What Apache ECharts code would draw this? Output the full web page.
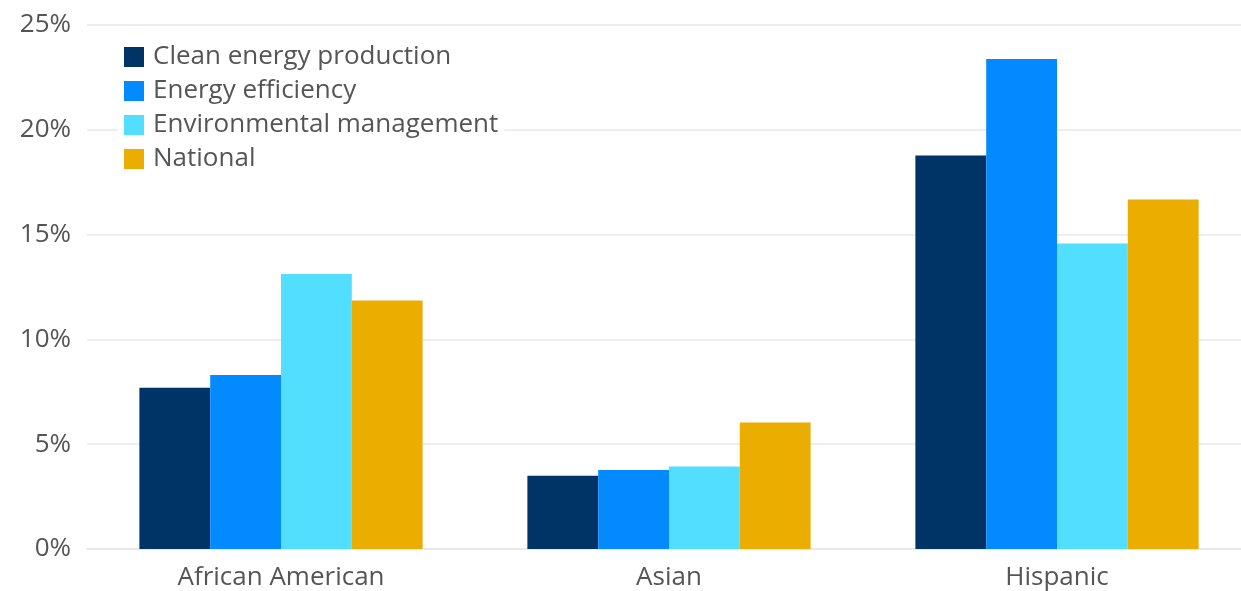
<!DOCTYPE html>
<html>
<head>
<meta charset="utf-8">
<script src="https://cdn.jsdelivr.net/npm/echarts@6/dist/echarts.min.js"></script>
<style>
  html, body { margin: 0; padding: 0; background: #fff; overflow: hidden; }
  /* the plot area runs slightly past the right edge of the window */
  #chart { width: 1251px; height: 591px; }
</style>
</head>
<body>
<div id="chart"></div>
<script>
// Share of workforce by group (%)
const categories = ['African American', 'Asian', 'Hispanic'];
const seriesNames = ['Clean energy production', 'Energy efficiency', 'Environmental management', 'National'];
const cleanEnergy = [7.69, 3.5, 18.77];
const energyEfficiency = [8.3, 3.77, 23.38];
const environmentalMgmt = [13.12, 3.94, 14.58];
const national = [11.85, 6.04, 16.68];
const yTicks = [0, 5, 10, 15, 20, 25];

const colors = ['#003466', '#038AFF', '#52DEFF', '#EAAD00'];
const seriesData = [cleanEnergy, energyEfficiency, environmentalMgmt, national];
const fontFamily = '"Open Sans", Lato, sans-serif';

const chart = echarts.init(document.getElementById('chart'));
chart.setOption({
  animation: false,
  color: colors,
  grid: { left: 87, right: 0, top: 25, bottom: 39, containLabel: false },
  legend: {
    orient: 'vertical',
    left: 118,
    top: 40,
    itemWidth: 20,
    itemHeight: 20,
    itemGap: 8,
    icon: 'rect',
    backgroundColor: '#fff',
    padding: [4, 6, 4, 6],
    textStyle: { fontFamily, fontSize: 26, color: '#555', padding: [0, 0, 0, 4] },
    data: seriesNames
  },
  xAxis: {
    type: 'category',
    data: categories,
    axisLine: { show: true, lineStyle: { color: '#e8e8e8', width: 2 } },
    axisTick: { show: false },
    axisLabel: { fontFamily, fontSize: 26, color: '#555', margin: 16 }
  },
  yAxis: {
    type: 'value',
    min: yTicks[0],
    max: yTicks[yTicks.length - 1],
    interval: 5,
    axisLine: { show: false },
    axisTick: { show: false },
    splitLine: { lineStyle: { color: '#e8e8e8', width: 1.5 } },
    axisLabel: { fontFamily, fontSize: 26, color: '#555', margin: 16, formatter: v => v + '%' }
  },
  series: seriesNames.map((name, i) => ({
    name,
    type: 'bar',
    data: seriesData[i],
    barGap: '0%',
    barCategoryGap: '27%',
    itemStyle: { color: colors[i] }
  }))
});
</script>
</body>
</html>
